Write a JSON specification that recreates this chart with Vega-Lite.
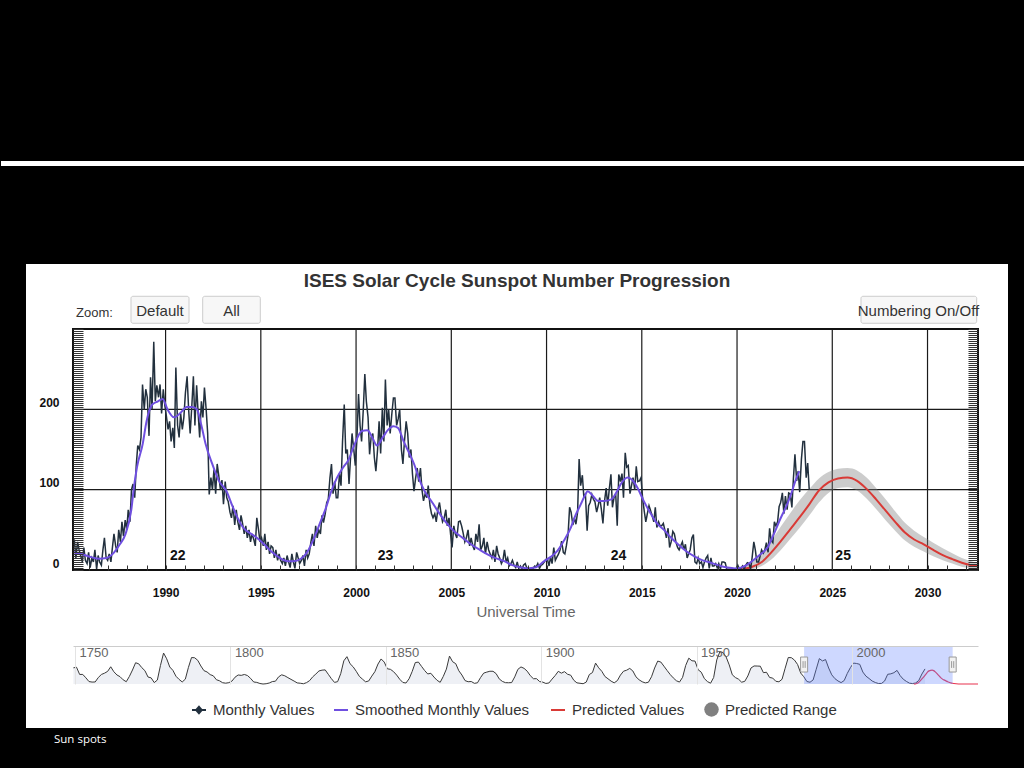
{
"$schema": "https://vega.github.io/schema/vega-lite/v6.json",
"background": "#000000",
"padding": 0,
"bounds": "flush",
"spacing": 76,
"config": {"view": {"stroke": null}, "font": "Liberation Sans"},
"resolve": {"scale": {"x": "independent", "y": "independent", "color": "independent"}},
"datasets": {
"one": [{}],
"grid": [{"g":1990},{"g":1995},{"g":2000},{"g":2005},{"g":2010},{"g":2015},{"g":2020},{"g":2025},{"g":2030}],
"hgrid": [{"v":100},{"v":200}],
"cycles": [{"c":"22","t":1990.64},{"c":"23","t":2001.55},{"c":"24","t":2013.78},{"c":"25","t":2025.57}],
"handles": [{"h":1984.6},{"h":2032.4}],
"monthly": [
{"t":1985.04,"v":20},{"t":1985.13,"v":30},{"t":1985.21,"v":38},{"t":1985.29,"v":15},{"t":1985.38,"v":35},{"t":1985.46,"v":25},{"t":1985.54,"v":18},{"t":1985.63,"v":10},{"t":1985.71,"v":28},{"t":1985.79,"v":12},{"t":1985.88,"v":8},{"t":1985.96,"v":22},
{"t":1986.04,"v":3},{"t":1986.13,"v":15},{"t":1986.21,"v":10},{"t":1986.29,"v":25},{"t":1986.38,"v":1},{"t":1986.46,"v":18},{"t":1986.54,"v":10},{"t":1986.63,"v":6},{"t":1986.71,"v":25},{"t":1986.79,"v":40},{"t":1986.88,"v":15},{"t":1986.96,"v":12},
{"t":1987.04,"v":20},{"t":1987.13,"v":10},{"t":1987.21,"v":28},{"t":1987.29,"v":45},{"t":1987.38,"v":30},{"t":1987.46,"v":22},{"t":1987.54,"v":50},{"t":1987.63,"v":35},{"t":1987.71,"v":60},{"t":1987.79,"v":42},{"t":1987.88,"v":62},{"t":1987.96,"v":50},
{"t":1988.04,"v":75},{"t":1988.13,"v":60},{"t":1988.21,"v":100},{"t":1988.29,"v":107},{"t":1988.38,"v":90},{"t":1988.46,"v":130},{"t":1988.54,"v":155},{"t":1988.63,"v":150},{"t":1988.71,"v":165},{"t":1988.79,"v":231},{"t":1988.88,"v":200},{"t":1988.96,"v":225},
{"t":1989.04,"v":215},{"t":1989.13,"v":167},{"t":1989.21,"v":240},{"t":1989.29,"v":200},{"t":1989.38,"v":284},{"t":1989.46,"v":210},{"t":1989.54,"v":230},{"t":1989.63,"v":215},{"t":1989.71,"v":231},{"t":1989.79,"v":195},{"t":1989.88,"v":225},{"t":1989.96,"v":205},
{"t":1990.04,"v":192},{"t":1990.13,"v":175},{"t":1990.21,"v":185},{"t":1990.29,"v":160},{"t":1990.38,"v":177},{"t":1990.46,"v":152},{"t":1990.54,"v":252},{"t":1990.63,"v":180},{"t":1990.71,"v":165},{"t":1990.79,"v":195},{"t":1990.88,"v":175},{"t":1990.96,"v":190},
{"t":1991.04,"v":220},{"t":1991.13,"v":241},{"t":1991.21,"v":200},{"t":1991.29,"v":170},{"t":1991.38,"v":205},{"t":1991.46,"v":241},{"t":1991.54,"v":180},{"t":1991.63,"v":230},{"t":1991.71,"v":195},{"t":1991.79,"v":165},{"t":1991.88,"v":210},{"t":1991.96,"v":190},
{"t":1992.04,"v":227},{"t":1992.13,"v":200},{"t":1992.21,"v":170},{"t":1992.29,"v":94},{"t":1992.38,"v":115},{"t":1992.46,"v":100},{"t":1992.54,"v":125},{"t":1992.63,"v":95},{"t":1992.71,"v":132},{"t":1992.79,"v":118},{"t":1992.88,"v":100},{"t":1992.96,"v":112},
{"t":1993.04,"v":82},{"t":1993.13,"v":110},{"t":1993.21,"v":90},{"t":1993.29,"v":85},{"t":1993.38,"v":72},{"t":1993.46,"v":65},{"t":1993.54,"v":80},{"t":1993.63,"v":56},{"t":1993.71,"v":75},{"t":1993.79,"v":60},{"t":1993.88,"v":50},{"t":1993.96,"v":68},
{"t":1994.04,"v":58},{"t":1994.13,"v":45},{"t":1994.21,"v":55},{"t":1994.29,"v":40},{"t":1994.38,"v":50},{"t":1994.46,"v":35},{"t":1994.54,"v":45},{"t":1994.63,"v":38},{"t":1994.71,"v":30},{"t":1994.79,"v":65},{"t":1994.88,"v":50},{"t":1994.96,"v":35},
{"t":1995.04,"v":40},{"t":1995.13,"v":30},{"t":1995.21,"v":45},{"t":1995.29,"v":25},{"t":1995.38,"v":35},{"t":1995.46,"v":20},{"t":1995.54,"v":30},{"t":1995.63,"v":28},{"t":1995.71,"v":15},{"t":1995.79,"v":25},{"t":1995.88,"v":12},{"t":1995.96,"v":20},
{"t":1996.04,"v":12},{"t":1996.13,"v":8},{"t":1996.21,"v":15},{"t":1996.29,"v":5},{"t":1996.38,"v":18},{"t":1996.46,"v":10},{"t":1996.54,"v":3},{"t":1996.63,"v":20},{"t":1996.71,"v":10},{"t":1996.79,"v":2},{"t":1996.88,"v":22},{"t":1996.96,"v":15},
{"t":1997.04,"v":8},{"t":1997.13,"v":12},{"t":1997.21,"v":18},{"t":1997.29,"v":5},{"t":1997.38,"v":25},{"t":1997.46,"v":15},{"t":1997.54,"v":20},{"t":1997.63,"v":35},{"t":1997.71,"v":45},{"t":1997.79,"v":30},{"t":1997.88,"v":55},{"t":1997.96,"v":40},
{"t":1998.04,"v":50},{"t":1998.13,"v":45},{"t":1998.21,"v":68},{"t":1998.29,"v":59},{"t":1998.38,"v":70},{"t":1998.46,"v":84},{"t":1998.54,"v":88},{"t":1998.63,"v":115},{"t":1998.71,"v":132},{"t":1998.79,"v":95},{"t":1998.88,"v":110},{"t":1998.96,"v":90},
{"t":1999.04,"v":90},{"t":1999.13,"v":120},{"t":1999.21,"v":105},{"t":1999.29,"v":160},{"t":1999.38,"v":206},{"t":1999.46,"v":145},{"t":1999.54,"v":150},{"t":1999.63,"v":107},{"t":1999.71,"v":140},{"t":1999.79,"v":170},{"t":1999.88,"v":150},{"t":1999.96,"v":130},
{"t":2000.04,"v":160},{"t":2000.13,"v":219},{"t":2000.21,"v":180},{"t":2000.29,"v":160},{"t":2000.38,"v":200},{"t":2000.46,"v":244},{"t":2000.54,"v":210},{"t":2000.63,"v":190},{"t":2000.71,"v":144},{"t":2000.79,"v":165},{"t":2000.88,"v":170},{"t":2000.96,"v":140},
{"t":2001.04,"v":123},{"t":2001.13,"v":150},{"t":2001.21,"v":185},{"t":2001.29,"v":145},{"t":2001.38,"v":202},{"t":2001.46,"v":160},{"t":2001.54,"v":237},{"t":2001.63,"v":180},{"t":2001.71,"v":200},{"t":2001.79,"v":170},{"t":2001.88,"v":195},{"t":2001.96,"v":214},
{"t":2002.04,"v":214},{"t":2002.13,"v":180},{"t":2002.21,"v":188},{"t":2002.29,"v":200},{"t":2002.38,"v":150},{"t":2002.46,"v":132},{"t":2002.54,"v":160},{"t":2002.63,"v":185},{"t":2002.71,"v":170},{"t":2002.79,"v":140},{"t":2002.88,"v":150},{"t":2002.96,"v":120},
{"t":2003.04,"v":98},{"t":2003.13,"v":115},{"t":2003.21,"v":127},{"t":2003.29,"v":110},{"t":2003.38,"v":127},{"t":2003.46,"v":100},{"t":2003.54,"v":86},{"t":2003.63,"v":95},{"t":2003.71,"v":90},{"t":2003.79,"v":105},{"t":2003.88,"v":80},{"t":2003.96,"v":70},
{"t":2004.04,"v":65},{"t":2004.13,"v":70},{"t":2004.21,"v":60},{"t":2004.29,"v":75},{"t":2004.38,"v":84},{"t":2004.46,"v":70},{"t":2004.54,"v":60},{"t":2004.63,"v":65},{"t":2004.71,"v":75},{"t":2004.79,"v":55},{"t":2004.88,"v":65},{"t":2004.96,"v":45},
{"t":2005.04,"v":28},{"t":2005.13,"v":55},{"t":2005.21,"v":45},{"t":2005.29,"v":40},{"t":2005.38,"v":60},{"t":2005.46,"v":61},{"t":2005.54,"v":55},{"t":2005.63,"v":45},{"t":2005.71,"v":35},{"t":2005.79,"v":40},{"t":2005.88,"v":50},{"t":2005.96,"v":30},
{"t":2006.04,"v":40},{"t":2006.13,"v":30},{"t":2006.21,"v":25},{"t":2006.29,"v":45},{"t":2006.38,"v":35},{"t":2006.46,"v":57},{"t":2006.54,"v":25},{"t":2006.63,"v":30},{"t":2006.71,"v":40},{"t":2006.79,"v":20},{"t":2006.88,"v":35},{"t":2006.96,"v":25},
{"t":2007.04,"v":20},{"t":2007.13,"v":15},{"t":2007.21,"v":25},{"t":2007.29,"v":10},{"t":2007.38,"v":30},{"t":2007.46,"v":20},{"t":2007.54,"v":15},{"t":2007.63,"v":8},{"t":2007.71,"v":12},{"t":2007.79,"v":25},{"t":2007.88,"v":10},{"t":2007.96,"v":15},
{"t":2008.04,"v":5},{"t":2008.13,"v":8},{"t":2008.21,"v":12},{"t":2008.29,"v":6},{"t":2008.38,"v":3},{"t":2008.46,"v":10},{"t":2008.54,"v":2},{"t":2008.63,"v":5},{"t":2008.71,"v":1},{"t":2008.79,"v":6},{"t":2008.88,"v":8},{"t":2008.96,"v":3},
{"t":2009.04,"v":2},{"t":2009.13,"v":1},{"t":2009.21,"v":0},{"t":2009.29,"v":2},{"t":2009.38,"v":5},{"t":2009.46,"v":4},{"t":2009.54,"v":8},{"t":2009.63,"v":2},{"t":2009.71,"v":6},{"t":2009.79,"v":7},{"t":2009.88,"v":10},{"t":2009.96,"v":13},
{"t":2010.04,"v":14},{"t":2010.13,"v":5},{"t":2010.21,"v":16},{"t":2010.29,"v":8},{"t":2010.38,"v":28},{"t":2010.46,"v":12},{"t":2010.54,"v":16},{"t":2010.63,"v":20},{"t":2010.71,"v":25},{"t":2010.79,"v":36},{"t":2010.88,"v":22},{"t":2010.96,"v":20},
{"t":2011.04,"v":30},{"t":2011.13,"v":44},{"t":2011.21,"v":78},{"t":2011.29,"v":72},{"t":2011.38,"v":56},{"t":2011.46,"v":65},{"t":2011.54,"v":57},{"t":2011.63,"v":72},{"t":2011.71,"v":138},{"t":2011.79,"v":105},{"t":2011.88,"v":118},{"t":2011.96,"v":90},
{"t":2012.04,"v":95},{"t":2012.13,"v":49},{"t":2012.21,"v":80},{"t":2012.29,"v":84},{"t":2012.38,"v":94},{"t":2012.46,"v":88},{"t":2012.54,"v":85},{"t":2012.63,"v":72},{"t":2012.71,"v":80},{"t":2012.79,"v":90},{"t":2012.88,"v":75},{"t":2012.96,"v":58},
{"t":2013.04,"v":85},{"t":2013.13,"v":102},{"t":2013.21,"v":80},{"t":2013.29,"v":100},{"t":2013.38,"v":119},{"t":2013.46,"v":78},{"t":2013.54,"v":90},{"t":2013.63,"v":95},{"t":2013.71,"v":55},{"t":2013.79,"v":119},{"t":2013.88,"v":110},{"t":2013.96,"v":120},
{"t":2014.04,"v":90},{"t":2014.13,"v":146},{"t":2014.21,"v":128},{"t":2014.29,"v":130},{"t":2014.38,"v":95},{"t":2014.46,"v":105},{"t":2014.54,"v":115},{"t":2014.63,"v":100},{"t":2014.71,"v":129},{"t":2014.79,"v":110},{"t":2014.88,"v":111},{"t":2014.96,"v":115},
{"t":2015.04,"v":90},{"t":2015.13,"v":73},{"t":2015.21,"v":60},{"t":2015.29,"v":70},{"t":2015.38,"v":80},{"t":2015.46,"v":74},{"t":2015.54,"v":68},{"t":2015.63,"v":60},{"t":2015.71,"v":78},{"t":2015.79,"v":53},{"t":2015.88,"v":60},{"t":2015.96,"v":55},
{"t":2016.04,"v":55},{"t":2016.13,"v":58},{"t":2016.21,"v":50},{"t":2016.29,"v":40},{"t":2016.38,"v":52},{"t":2016.46,"v":28},{"t":2016.54,"v":35},{"t":2016.63,"v":48},{"t":2016.71,"v":45},{"t":2016.79,"v":35},{"t":2016.88,"v":28},{"t":2016.96,"v":25},
{"t":2017.04,"v":30},{"t":2017.13,"v":35},{"t":2017.21,"v":25},{"t":2017.29,"v":32},{"t":2017.38,"v":15},{"t":2017.46,"v":20},{"t":2017.54,"v":25},{"t":2017.63,"v":40},{"t":2017.71,"v":44},{"t":2017.79,"v":10},{"t":2017.88,"v":8},{"t":2017.96,"v":15},
{"t":2018.04,"v":8},{"t":2018.13,"v":10},{"t":2018.21,"v":3},{"t":2018.29,"v":10},{"t":2018.38,"v":15},{"t":2018.46,"v":18},{"t":2018.54,"v":2},{"t":2018.63,"v":15},{"t":2018.71,"v":5},{"t":2018.79,"v":5},{"t":2018.88,"v":8},{"t":2018.96,"v":3},
{"t":2019.04,"v":8},{"t":2019.13,"v":1},{"t":2019.21,"v":10},{"t":2019.29,"v":10},{"t":2019.38,"v":9},{"t":2019.46,"v":1},{"t":2019.54,"v":1},{"t":2019.63,"v":1},{"t":2019.71,"v":1},{"t":2019.79,"v":1},{"t":2019.88,"v":1},{"t":2019.96,"v":2},
{"t":2020.04,"v":6},{"t":2020.13,"v":1},{"t":2020.21,"v":2},{"t":2020.29,"v":5},{"t":2020.38,"v":1},{"t":2020.46,"v":6},{"t":2020.54,"v":9},{"t":2020.63,"v":8},{"t":2020.71,"v":1},{"t":2020.79,"v":15},{"t":2020.88,"v":35},{"t":2020.96,"v":25},
{"t":2021.04,"v":10},{"t":2021.13,"v":10},{"t":2021.21,"v":17},{"t":2021.29,"v":25},{"t":2021.38,"v":21},{"t":2021.46,"v":25},{"t":2021.54,"v":34},{"t":2021.63,"v":22},{"t":2021.71,"v":52},{"t":2021.79,"v":37},{"t":2021.88,"v":34},{"t":2021.96,"v":60},
{"t":2022.04,"v":55},{"t":2022.13,"v":60},{"t":2022.21,"v":79},{"t":2022.29,"v":84},{"t":2022.38,"v":96},{"t":2022.46,"v":70},{"t":2022.54,"v":92},{"t":2022.63,"v":75},{"t":2022.71,"v":96},{"t":2022.79,"v":95},{"t":2022.88,"v":78},{"t":2022.96,"v":114},
{"t":2023.04,"v":144},{"t":2023.13,"v":111},{"t":2023.21,"v":123},{"t":2023.29,"v":97},{"t":2023.38,"v":138},{"t":2023.46,"v":160},{"t":2023.54,"v":160},{"t":2023.63,"v":115},{"t":2023.71,"v":133},{"t":2023.79,"v":100}
],
"smooth": [
{"t":1985.0,"s":24},{"t":1985.3,"s":21},{"t":1985.7,"s":19},{"t":1986.1,"s":16},{"t":1986.5,"s":14},{"t":1986.9,"s":15},{"t":1987.3,"s":22},{"t":1987.6,"s":32},{"t":1987.9,"s":45},{"t":1988.2,"s":75},{"t":1988.35,"s":105},{"t":1988.5,"s":128},{"t":1988.8,"s":157},{"t":1989.0,"s":185},{"t":1989.3,"s":206},{"t":1989.6,"s":210},{"t":1989.85,"s":213},{"t":1990.1,"s":200},{"t":1990.45,"s":190},{"t":1990.8,"s":196},{"t":1991.1,"s":203},{"t":1991.4,"s":203},{"t":1991.65,"s":200},{"t":1991.9,"s":178},{"t":1992.1,"s":157},{"t":1992.45,"s":132},{"t":1992.8,"s":111},{"t":1993.2,"s":98},{"t":1993.5,"s":80},{"t":1993.8,"s":64},{"t":1994.1,"s":52},{"t":1994.5,"s":45},{"t":1994.9,"s":38},{"t":1995.3,"s":29},{"t":1995.6,"s":22},{"t":1996.0,"s":15},{"t":1996.4,"s":11},{"t":1996.7,"s":11},{"t":1997.1,"s":14},{"t":1997.5,"s":25},{"t":1997.8,"s":40},{"t":1998.1,"s":58},{"t":1998.4,"s":76},{"t":1998.7,"s":98},{"t":1999.0,"s":115},{"t":1999.3,"s":127},{"t":1999.6,"s":137},{"t":1999.9,"s":155},{"t":2000.3,"s":173},{"t":2000.6,"s":174},{"t":2000.85,"s":165},{"t":2001.1,"s":155},{"t":2001.4,"s":165},{"t":2001.7,"s":175},{"t":2001.95,"s":179},{"t":2002.2,"s":177},{"t":2002.5,"s":160},{"t":2002.8,"s":145},{"t":2003.06,"s":131},{"t":2003.3,"s":114},{"t":2003.6,"s":98},{"t":2004.0,"s":84},{"t":2004.3,"s":73},{"t":2004.7,"s":60},{"t":2005.16,"s":48},{"t":2005.6,"s":40},{"t":2006.03,"s":32},{"t":2006.5,"s":25},{"t":2006.9,"s":19.5},{"t":2007.3,"s":15},{"t":2007.78,"s":11},{"t":2008.2,"s":6},{"t":2008.66,"s":3},{"t":2009.0,"s":2},{"t":2009.4,"s":3},{"t":2009.88,"s":11},{"t":2010.2,"s":16},{"t":2010.58,"s":24},{"t":2010.9,"s":36},{"t":2011.28,"s":53},{"t":2011.5,"s":67},{"t":2011.8,"s":82},{"t":2012.0,"s":92},{"t":2012.16,"s":98},{"t":2012.4,"s":93},{"t":2012.7,"s":86},{"t":2013.0,"s":86},{"t":2013.4,"s":88},{"t":2013.7,"s":98},{"t":2013.9,"s":107},{"t":2014.26,"s":115},{"t":2014.5,"s":112},{"t":2014.78,"s":102},{"t":2015.1,"s":86},{"t":2015.5,"s":69},{"t":2015.8,"s":58},{"t":2016.2,"s":49},{"t":2016.5,"s":41},{"t":2016.9,"s":32},{"t":2017.3,"s":24},{"t":2017.76,"s":17},{"t":2018.2,"s":12},{"t":2018.63,"s":9},{"t":2019.0,"s":6},{"t":2019.5,"s":3},{"t":2019.9,"s":2},{"t":2020.2,"s":3},{"t":2020.5,"s":6},{"t":2020.9,"s":13},{"t":2021.2,"s":19},{"t":2021.6,"s":28},{"t":2021.9,"s":43},{"t":2022.3,"s":65},{"t":2022.6,"s":80},{"t":2022.83,"s":94},{"t":2023.05,"s":110},{"t":2023.27,"s":123}
],
"pred": [
{"t":2019.9,"p":0,"lo":0,"hi":1},{"t":2020.3,"p":1,"lo":0,"hi":4},{"t":2020.8,"p":4,"lo":1,"hi":10},{"t":2021.3,"p":10,"lo":5,"hi":21},{"t":2021.8,"p":22,"lo":13,"hi":37},{"t":2022.3,"p":36,"lo":25,"hi":54},{"t":2022.8,"p":51,"lo":39,"hi":71},{"t":2023.3,"p":66,"lo":53,"hi":87},{"t":2023.8,"p":82,"lo":68,"hi":101},{"t":2024.3,"p":99,"lo":84,"hi":114},{"t":2024.8,"p":109,"lo":96,"hi":122},{"t":2025.3,"p":114,"lo":102,"hi":126},{"t":2025.8,"p":115,"lo":103,"hi":127},{"t":2026.3,"p":111,"lo":99,"hi":124},{"t":2026.8,"p":101,"lo":89,"hi":115},{"t":2027.3,"p":88,"lo":76,"hi":102},{"t":2027.8,"p":74,"lo":62,"hi":88},{"t":2028.3,"p":60,"lo":49,"hi":73},{"t":2028.8,"p":47,"lo":37,"hi":59},{"t":2029.3,"p":38,"lo":29,"hi":49},{"t":2029.8,"p":32,"lo":23,"hi":41},{"t":2030.3,"p":25,"lo":17,"hi":34},{"t":2030.8,"p":18.5,"lo":12,"hi":27},{"t":2031.3,"p":13.5,"lo":8,"hi":21},{"t":2031.8,"p":9,"lo":4,"hi":15},{"t":2032.3,"p":6,"lo":2,"hi":11},{"t":2032.8,"p":4,"lo":1,"hi":8},{"t":2033.5,"p":2,"lo":0,"hi":5},{"t":2035.0,"p":0,"lo":0,"hi":1},{"t":2040.55,"p":0,"lo":0,"hi":0}
],
"nav": [
{"t":1749.5,"n":134.7},{"t":1750.5,"n":139.0},{"t":1751.5,"n":79.5},{"t":1752.5,"n":79.7},{"t":1753.5,"n":51.5},{"t":1754.5,"n":20.3},{"t":1755.5,"n":16.0},{"t":1756.5,"n":17.0},{"t":1757.5,"n":54.0},{"t":1758.5,"n":79.3},{"t":1759.5,"n":90.0},{"t":1760.5,"n":104.8},{"t":1761.5,"n":143.2},{"t":1762.5,"n":102.0},{"t":1763.5,"n":75.2},{"t":1764.5,"n":60.7},{"t":1765.5,"n":34.8},{"t":1766.5,"n":19.0},{"t":1767.5,"n":63.0},{"t":1768.5,"n":116.3},{"t":1769.5,"n":176.8},{"t":1770.5,"n":168.0},{"t":1771.5,"n":136.0},{"t":1772.5,"n":110.8},{"t":1773.5,"n":58.0},{"t":1774.5,"n":51.0},{"t":1775.5,"n":11.7},{"t":1776.5,"n":33.0},{"t":1777.5,"n":154.2},{"t":1778.5,"n":257.3},{"t":1779.5,"n":209.8},{"t":1780.5,"n":141.3},{"t":1781.5,"n":113.5},{"t":1782.5,"n":64.2},{"t":1783.5,"n":38.0},{"t":1784.5,"n":17.0},{"t":1785.5,"n":40.2},{"t":1786.5,"n":138.2},{"t":1787.5,"n":220.0},{"t":1788.5,"n":218.2},{"t":1789.5,"n":196.8},{"t":1790.5,"n":149.8},{"t":1791.5,"n":111.0},{"t":1792.5,"n":100.0},{"t":1793.5,"n":78.2},{"t":1794.5,"n":68.3},{"t":1795.5,"n":35.5},{"t":1796.5,"n":26.7},{"t":1797.5,"n":10.7},{"t":1798.5,"n":6.8},{"t":1799.5,"n":11.3},
{"t":1800.5,"n":24.2},{"t":1801.5,"n":56.7},{"t":1802.5,"n":75.0},{"t":1803.5,"n":71.8},{"t":1804.5,"n":79.2},{"t":1805.5,"n":70.3},{"t":1806.5,"n":46.8},{"t":1807.5,"n":16.8},{"t":1808.5,"n":13.5},{"t":1809.5,"n":4.2},{"t":1810.5,"n":0.0},{"t":1811.5,"n":2.3},{"t":1812.5,"n":8.3},{"t":1813.5,"n":20.3},{"t":1814.5,"n":23.2},{"t":1815.5,"n":59.0},{"t":1816.5,"n":76.3},{"t":1817.5,"n":68.3},{"t":1818.5,"n":52.9},{"t":1819.5,"n":38.5},{"t":1820.5,"n":24.2},{"t":1821.5,"n":9.2},{"t":1822.5,"n":6.3},{"t":1823.5,"n":2.2},{"t":1824.5,"n":11.4},{"t":1825.5,"n":28.2},{"t":1826.5,"n":59.9},{"t":1827.5,"n":83.0},{"t":1828.5,"n":108.5},{"t":1829.5,"n":115.2},{"t":1830.5,"n":117.4},{"t":1831.5,"n":80.8},{"t":1832.5,"n":44.3},{"t":1833.5,"n":13.4},{"t":1834.5,"n":19.5},{"t":1835.5,"n":85.8},{"t":1836.5,"n":192.7},{"t":1837.5,"n":227.3},{"t":1838.5,"n":168.7},{"t":1839.5,"n":143.0},{"t":1840.5,"n":105.5},{"t":1841.5,"n":63.3},{"t":1842.5,"n":40.3},{"t":1843.5,"n":18.1},{"t":1844.5,"n":25.1},{"t":1845.5,"n":65.8},{"t":1846.5,"n":102.7},{"t":1847.5,"n":166.3},{"t":1848.5,"n":208.3},{"t":1849.5,"n":182.5},
{"t":1850.5,"n":126.3},{"t":1851.5,"n":122.0},{"t":1852.5,"n":102.7},{"t":1853.5,"n":74.1},{"t":1854.5,"n":39.0},{"t":1855.5,"n":12.7},{"t":1856.5,"n":8.2},{"t":1857.5,"n":43.4},{"t":1858.5,"n":104.4},{"t":1859.5,"n":178.3},{"t":1860.5,"n":182.2},{"t":1861.5,"n":146.6},{"t":1862.5,"n":112.1},{"t":1863.5,"n":83.5},{"t":1864.5,"n":89.2},{"t":1865.5,"n":57.8},{"t":1866.5,"n":30.7},{"t":1867.5,"n":13.9},{"t":1868.5,"n":62.8},{"t":1869.5,"n":123.6},{"t":1870.5,"n":232.0},{"t":1871.5,"n":185.3},{"t":1872.5,"n":169.2},{"t":1873.5,"n":110.1},{"t":1874.5,"n":74.5},{"t":1875.5,"n":28.3},{"t":1876.5,"n":18.9},{"t":1877.5,"n":20.7},{"t":1878.5,"n":5.7},{"t":1879.5,"n":10.0},{"t":1880.5,"n":53.7},{"t":1881.5,"n":90.5},{"t":1882.5,"n":99.0},{"t":1883.5,"n":106.1},{"t":1884.5,"n":105.8},{"t":1885.5,"n":86.3},{"t":1886.5,"n":42.4},{"t":1887.5,"n":21.8},{"t":1888.5,"n":11.2},{"t":1889.5,"n":10.4},{"t":1890.5,"n":11.8},{"t":1891.5,"n":59.5},{"t":1892.5,"n":121.7},{"t":1893.5,"n":142.0},{"t":1894.5,"n":130.0},{"t":1895.5,"n":106.6},{"t":1896.5,"n":69.4},{"t":1897.5,"n":43.8},{"t":1898.5,"n":44.4},{"t":1899.5,"n":20.2},
{"t":1900.5,"n":15.7},{"t":1901.5,"n":4.6},{"t":1902.5,"n":8.5},{"t":1903.5,"n":40.8},{"t":1904.5,"n":70.1},{"t":1905.5,"n":105.5},{"t":1906.5,"n":90.1},{"t":1907.5,"n":102.8},{"t":1908.5,"n":80.9},{"t":1909.5,"n":73.2},{"t":1910.5,"n":30.9},{"t":1911.5,"n":9.5},{"t":1912.5,"n":6.0},{"t":1913.5,"n":2.4},{"t":1914.5,"n":16.1},{"t":1915.5,"n":79.0},{"t":1916.5,"n":95.0},{"t":1917.5,"n":173.6},{"t":1918.5,"n":134.6},{"t":1919.5,"n":105.7},{"t":1920.5,"n":62.7},{"t":1921.5,"n":43.5},{"t":1922.5,"n":23.7},{"t":1923.5,"n":9.7},{"t":1924.5,"n":27.9},{"t":1925.5,"n":74.0},{"t":1926.5,"n":106.5},{"t":1927.5,"n":114.7},{"t":1928.5,"n":129.7},{"t":1929.5,"n":108.2},{"t":1930.5,"n":59.4},{"t":1931.5,"n":35.1},{"t":1932.5,"n":18.6},{"t":1933.5,"n":9.2},{"t":1934.5,"n":14.6},{"t":1935.5,"n":60.2},{"t":1936.5,"n":132.8},{"t":1937.5,"n":190.6},{"t":1938.5,"n":182.6},{"t":1939.5,"n":148.0},{"t":1940.5,"n":113.0},{"t":1941.5,"n":79.2},{"t":1942.5,"n":50.8},{"t":1943.5,"n":27.1},{"t":1944.5,"n":16.1},{"t":1945.5,"n":55.3},{"t":1946.5,"n":154.3},{"t":1947.5,"n":214.7},{"t":1948.5,"n":193.0},{"t":1949.5,"n":190.7},
{"t":1950.5,"n":118.9},{"t":1951.5,"n":98.3},{"t":1952.5,"n":45.0},{"t":1953.5,"n":20.1},{"t":1954.5,"n":6.6},{"t":1955.5,"n":54.2},{"t":1956.5,"n":200.7},{"t":1957.5,"n":269.3},{"t":1958.5,"n":261.7},{"t":1959.5,"n":225.1},{"t":1960.5,"n":159.0},{"t":1961.5,"n":76.4},{"t":1962.5,"n":53.4},{"t":1963.5,"n":39.9},{"t":1964.5,"n":15.0},{"t":1965.5,"n":22.0},{"t":1966.5,"n":66.8},{"t":1967.5,"n":132.9},{"t":1968.5,"n":150.0},{"t":1969.5,"n":149.4},{"t":1970.5,"n":148.0},{"t":1971.5,"n":94.4},{"t":1972.5,"n":97.6},{"t":1973.5,"n":54.1},{"t":1974.5,"n":49.2},{"t":1975.5,"n":22.5},{"t":1976.5,"n":18.4},{"t":1977.5,"n":39.3},{"t":1978.5,"n":131.0},{"t":1979.5,"n":220.1},{"t":1980.5,"n":218.9},{"t":1981.5,"n":198.9},{"t":1982.5,"n":162.4},{"t":1983.5,"n":91.0},{"t":1984.5,"n":60.5},{"t":1985.5,"n":20.6},{"t":1986.5,"n":14.8},{"t":1987.5,"n":33.9},{"t":1988.5,"n":123.0},{"t":1989.5,"n":211.1},{"t":1990.5,"n":191.8},{"t":1991.5,"n":203.3},{"t":1992.5,"n":133.0},{"t":1993.5,"n":76.1},{"t":1994.5,"n":44.9},{"t":1995.5,"n":25.1},{"t":1996.5,"n":11.6},{"t":1997.5,"n":28.9},{"t":1998.5,"n":88.3},{"t":1999.5,"n":136.3},
{"t":2000.5,"n":173.9},{"t":2001.5,"n":170.4},{"t":2002.5,"n":163.6},{"t":2003.5,"n":99.3},{"t":2004.5,"n":65.3},{"t":2005.5,"n":45.8},{"t":2006.5,"n":24.7},{"t":2007.5,"n":12.6},{"t":2008.5,"n":4.2},{"t":2009.5,"n":4.8},{"t":2010.5,"n":24.9},{"t":2011.5,"n":80.8},{"t":2012.5,"n":84.5},{"t":2013.5,"n":94.0},{"t":2014.5,"n":113.3},{"t":2015.5,"n":69.8},{"t":2016.5,"n":39.8},{"t":2017.5,"n":21.7},{"t":2018.5,"n":7.0},{"t":2019.5,"n":3.6},{"t":2020.5,"n":8.8},{"t":2021.5,"n":29.6},{"t":2022.5,"n":83.2},{"t":2023.5,"n":125.5}
]
},
"vconcat": [
{
"width": 905,
"height": 241,
"resolve": {"axis": {"x": "independent", "y": "independent"}},
"layer": [
{"data": {"name": "one"}, "mark": {"type": "rect", "color": "#000000"},
 "encoding": {"x": {"datum": 1981.36, "type": "quantitative", "scale": {"domain": [1985.14, 2032.65], "nice": false, "zero": false}, "axis": null}, "x2": {"datum": 2035.115},
 "y": {"datum": 708.3, "type": "quantitative", "scale": {"domain": [0, 300], "nice": false, "zero": false}, "axis": null}, "y2": {"datum": -247.7}}},
{"data": {"name": "one"}, "mark": {"type": "rect", "color": "#ffffff"},
 "encoding": {"x": {"datum": 1981.36, "type": "quantitative", "axis": null}, "x2": {"datum": 2035.115},
 "y": {"datum": 509.13, "type": "quantitative", "axis": null}, "y2": {"datum": 502.9}}},
{"data": {"name": "one"}, "mark": {"type": "rect", "color": "#ffffff"},
 "encoding": {"x": {"datum": 1982.6726, "type": "quantitative", "axis": null}, "x2": {"datum": 2034.225},
 "y": {"datum": 380.91, "type": "quantitative", "axis": null}, "y2": {"datum": -196.68}}},
{"data": {"name": "grid"}, "mark": {"type": "rule", "color": "#1a1a1a", "strokeWidth": 1.2},
 "encoding": {"x": {"field": "g", "type": "quantitative", "axis": null}}},
{"data": {"name": "hgrid"}, "mark": {"type": "rule", "color": "#1a1a1a", "strokeWidth": 1.2},
 "encoding": {"y": {"field": "v", "type": "quantitative",
  "axis": {"orient": "right", "values": [0,2.5,5,7.5,10,12.5,15,17.5,20,22.5,25,27.5,30,32.5,35,37.5,40,42.5,45,47.5,50,52.5,55,57.5,60,62.5,65,67.5,70,72.5,75,77.5,80,82.5,85,87.5,90,92.5,95,97.5,100,102.5,105,107.5,110,112.5,115,117.5,120,122.5,125,127.5,130,132.5,135,137.5,140,142.5,145,147.5,150,152.5,155,157.5,160,162.5,165,167.5,170,172.5,175,177.5,180,182.5,185,187.5,190,192.5,195,197.5,200,202.5,205,207.5,210,212.5,215,217.5,220,222.5,225,227.5,230,232.5,235,237.5,240,242.5,245,247.5,250,252.5,255,257.5,260,262.5,265,267.5,270,272.5,275,277.5,280,282.5,285,287.5,290,292.5,295,297.5,300],
   "tickSize": -10, "tickColor": "#333333", "tickWidth": 1, "labels": false, "domain": false, "grid": false, "title": null, "zindex": 1}}}},
{"data": {"name": "pred"}, "mark": {"type": "area", "opacity": 0.4, "clip": true, "interpolate": "monotone"},
 "encoding": {"x": {"field": "t", "type": "quantitative", "axis": null}, "y": {"field": "lo", "type": "quantitative", "axis": null}, "y2": {"field": "hi"},
 "fill": {"datum": "Predicted Range", "type": "nominal",
  "scale": {"domain": ["Predicted Range"], "range": ["#808080"]},
  "legend": {"orient": "none", "legendX": 631, "legendY": 373, "title": null, "symbolType": "circle", "symbolSize": 210, "symbolOpacity": 1, "symbolStrokeWidth": 0, "labelFont": "Liberation Sans", "labelFontSize": 15, "labelColor": "#333333", "labelOffset": 6, "padding": 0, "labelLimit": 400}}}},
{"data": {"name": "pred"}, "mark": {"type": "line", "strokeWidth": 2, "clip": true, "interpolate": "monotone"},
 "encoding": {"x": {"field": "t", "type": "quantitative", "axis": null}, "y": {"field": "p", "type": "quantitative", "axis": null},
  "color": {"datum": "Predicted Values", "type": "nominal",
   "scale": {"domain": ["Smoothed Monthly Values", "Predicted Values"], "range": ["#6f4fe0", "#d93a36"]},
   "legend": {"orient": "none", "legendX": 260, "legendY": 373, "direction": "horizontal", "title": null, "symbolType": "stroke", "symbolSize": 196, "symbolStrokeWidth": 2, "symbolOpacity": 1, "labelFont": "Liberation Sans", "labelFontSize": 15, "labelColor": "#333333", "labelOffset": 6, "columnPadding": 18, "padding": 0, "labelLimit": 400}}}},
{"data": {"name": "monthly"}, "mark": {"type": "line", "strokeWidth": 1.5, "clip": true, "color": "#22303e"},
 "encoding": {"x": {"field": "t", "type": "quantitative", "axis": null}, "y": {"field": "v", "type": "quantitative", "axis": null},
  "strokeDash": {"datum": "Monthly Values", "type": "nominal",
   "scale": {"domain": ["Monthly Values"], "range": [[1, 0]]},
   "legend": {"orient": "none", "legendX": 118, "legendY": 373, "title": null, "symbolType": "M-1,0L1,0M0,-0.45L0.4,0L0,0.45L-0.4,0Z", "symbolSize": 196, "symbolStrokeWidth": 2, "symbolOpacity": 1, "symbolStrokeColor": "#22303e", "symbolFillColor": "#22303e", "labelFont": "Liberation Sans", "labelFontSize": 15, "labelColor": "#333333", "labelOffset": 6, "padding": 0, "labelLimit": 400}}}},
{"data": {"name": "smooth"}, "mark": {"type": "line", "strokeWidth": 2, "clip": true, "interpolate": "monotone"},
 "encoding": {"x": {"field": "t", "type": "quantitative", "axis": null}, "y": {"field": "s", "type": "quantitative", "axis": null}, "color": {"datum": "Smoothed Monthly Values"}}},
{"data": {"name": "cycles"}, "mark": {"type": "text", "font": "Liberation Sans", "fontSize": 14, "fontWeight": "bold", "color": "#111111", "align": "center", "baseline": "alphabetic"},
 "encoding": {"x": {"field": "t", "type": "quantitative", "axis": null}, "y": {"datum": 12.07, "type": "quantitative", "axis": null}, "text": {"field": "c"}}},
{"data": {"name": "one"}, "mark": {"type": "rect", "filled": false, "stroke": "#111111", "strokeWidth": 2},
 "encoding": {
  "x": {"datum": 1985.14, "type": "quantitative",
   "axis": {"orient": "bottom", "values": [1986,1987,1988,1989,1990,1991,1992,1993,1994,1995,1996,1997,1998,1999,2000,2001,2002,2003,2004,2005,2006,2007,2008,2009,2010,2011,2012,2013,2014,2015,2016,2017,2018,2019,2020,2021,2022,2023,2024,2025,2026,2027,2028,2029,2030,2031,2032],
    "tickSize": -5, "tickColor": "#333333", "tickWidth": 1, "labelExpr": "datum.value % 5 === 0 ? '' + datum.value : ''",
    "labelFont": "Liberation Sans", "labelFontSize": 12, "labelFontWeight": "bold", "labelColor": "#111111", "labelPadding": 22, "labelFlush": false, "labelOverlap": false,
    "domain": false, "grid": false, "title": "Universal Time", "titleFont": "Liberation Sans", "titleFontSize": 15, "titleFontWeight": "normal", "titleColor": "#666666", "titlePadding": 6, "zindex": 1}},
  "x2": {"datum": 2032.65},
  "y": {"datum": 0, "type": "quantitative",
   "axis": {"orient": "left", "values": [0,2.5,5,7.5,10,12.5,15,17.5,20,22.5,25,27.5,30,32.5,35,37.5,40,42.5,45,47.5,50,52.5,55,57.5,60,62.5,65,67.5,70,72.5,75,77.5,80,82.5,85,87.5,90,92.5,95,97.5,100,102.5,105,107.5,110,112.5,115,117.5,120,122.5,125,127.5,130,132.5,135,137.5,140,142.5,145,147.5,150,152.5,155,157.5,160,162.5,165,167.5,170,172.5,175,177.5,180,182.5,185,187.5,190,192.5,195,197.5,200,202.5,205,207.5,210,212.5,215,217.5,220,222.5,225,227.5,230,232.5,235,237.5,240,242.5,245,247.5,250,252.5,255,257.5,260,262.5,265,267.5,270,272.5,275,277.5,280,282.5,285,287.5,290,292.5,295,297.5,300],
    "tickSize": -10, "tickColor": "#333333", "tickWidth": 1, "labelExpr": "datum.value === 0 || datum.value === 100 || datum.value === 200 ? datum.label : ''",
    "labelFont": "Liberation Sans", "labelFontSize": 12, "labelFontWeight": "bold", "labelColor": "#111111", "labelPadding": 24, "labelBaseline": "alphabetic", "labelOffset": -3, "labelFlush": false, "labelOverlap": false,
    "domain": false, "grid": false, "title": null, "zindex": 1}},
  "y2": {"datum": 300}}},
{"data": {"name": "one"}, "mark": {"type": "rect", "fill": "#f7f7f7", "stroke": "#cccccc", "strokeWidth": 1, "cornerRadius": 2},
 "encoding": {"x": {"datum": 1988.1848, "type": "quantitative", "axis": null}, "x2": {"datum": 1991.2297}, "y": {"datum": 340.71, "type": "quantitative", "axis": null}, "y2": {"datum": 307.1}}},
{"data": {"name": "one"}, "mark": {"type": "rect", "fill": "#f7f7f7", "stroke": "#cccccc", "strokeWidth": 1, "cornerRadius": 2},
 "encoding": {"x": {"datum": 1991.9489, "type": "quantitative", "axis": null}, "x2": {"datum": 1994.9727}, "y": {"datum": 340.71, "type": "quantitative", "axis": null}, "y2": {"datum": 307.1}}},
{"data": {"name": "one"}, "mark": {"type": "rect", "fill": "#f7f7f7", "stroke": "#cccccc", "strokeWidth": 1, "cornerRadius": 2},
 "encoding": {"x": {"datum": 2026.5076, "type": "quantitative", "axis": null}, "x2": {"datum": 2032.5815}, "y": {"datum": 340.71, "type": "quantitative", "axis": null}, "y2": {"datum": 307.1}}},
{"data": {"name": "one"}, "mark": {"type": "text", "text": "Zoom:", "font": "Liberation Sans", "fontSize": 13, "color": "#333333", "align": "left", "baseline": "alphabetic"},
 "encoding": {"x": {"datum": 1985.2975, "type": "quantitative", "axis": null}, "y": {"datum": 315.31, "type": "quantitative", "axis": null}}},
{"data": {"name": "one"}, "mark": {"type": "text", "text": "Default", "font": "Liberation Sans", "fontSize": 15, "color": "#333333", "align": "center", "baseline": "alphabetic"},
 "encoding": {"x": {"datum": 1989.7073, "type": "quantitative", "axis": null}, "y": {"datum": 316.56, "type": "quantitative", "axis": null}}},
{"data": {"name": "one"}, "mark": {"type": "text", "text": "All", "font": "Liberation Sans", "fontSize": 15, "color": "#333333", "align": "center", "baseline": "alphabetic"},
 "encoding": {"x": {"datum": 1993.4609, "type": "quantitative", "axis": null}, "y": {"datum": 316.56, "type": "quantitative", "axis": null}}},
{"data": {"name": "one"}, "mark": {"type": "text", "text": "Numbering On/Off", "font": "Liberation Sans", "fontSize": 15, "color": "#333333", "align": "center", "baseline": "alphabetic"},
 "encoding": {"x": {"datum": 2029.5264, "type": "quantitative", "axis": null}, "y": {"datum": 316.56, "type": "quantitative", "axis": null}}},
{"data": {"name": "one"}, "mark": {"type": "text", "text": "ISES Solar Cycle Sunspot Number Progression", "font": "Liberation Sans", "fontSize": 19, "fontWeight": "bold", "color": "#333333", "align": "center", "baseline": "alphabetic"},
 "encoding": {"x": {"datum": 2008.449, "type": "quantitative", "axis": null}, "y": {"datum": 352.65, "type": "quantitative", "axis": null}}},
{"data": {"name": "one"}, "mark": {"type": "text", "text": "Sun spots", "font": "Open Sans", "fontSize": 11.5, "color": "#ffffff", "align": "left", "baseline": "alphabetic"},
 "encoding": {"x": {"datum": 1984.1426, "type": "quantitative", "axis": null}, "y": {"datum": -215.35, "type": "quantitative", "axis": null}}}
]
},
{
"width": 905,
"height": 38,
"resolve": {"axis": {"x": "independent"}},
"layer": [
{"data": {"name": "nav"}, "mark": {"type": "area", "color": "#eef0f5"},
 "encoding": {"x": {"field": "t", "type": "quantitative", "scale": {"domain": [1749.36, 2040.55], "nice": false, "zero": false},
   "axis": {"orient": "top", "values": [1750,1800,1850,1900,1950,2000], "grid": true, "gridColor": "#e3e3e3", "ticks": false, "domain": true, "domainColor": "#cccccc",
    "labelExpr": "'' + datum.value", "labelAlign": "left", "labelBaseline": "alphabetic", "labelPadding": -10, "labelOffset": 4, "labelColor": "#666666", "labelFont": "Liberation Sans", "labelFontSize": 13, "labelFlush": false, "labelOverlap": false, "labelBound": false, "title": null, "zindex": 1}},
  "y": {"field": "n", "type": "quantitative", "scale": {"domain": [0, 316], "nice": false, "zero": false}, "axis": null}}},
{"data": {"name": "nav"}, "mark": {"type": "line", "color": "#3a3a3a", "strokeWidth": 1},
 "encoding": {"x": {"field": "t", "type": "quantitative", "axis": null}, "y": {"field": "n", "type": "quantitative", "axis": null}}},
{"data": {"name": "pred"}, "mark": {"type": "line", "color": "#e8334f", "strokeWidth": 1.2, "interpolate": "monotone"},
 "encoding": {"x": {"field": "t", "type": "quantitative", "axis": null}, "y": {"field": "p", "type": "quantitative", "axis": null}}},
{"data": {"name": "one"}, "mark": {"type": "rect", "color": "#6685ff", "opacity": 0.32},
 "encoding": {"x": {"datum": 1984.6, "type": "quantitative", "axis": null}, "x2": {"datum": 2032.4}, "y": {"datum": 0, "type": "quantitative", "axis": null}, "y2": {"datum": 316}}},
{"data": {"name": "handles"}, "mark": {"type": "point", "shape": "M-0.47,-1H0.47V1H-0.47Z M-0.14,-0.45V0.45 M0.14,-0.45V0.45", "size": 225, "filled": true, "fill": "#f2f2f2", "stroke": "#999999", "strokeWidth": 1, "opacity": 1},
 "encoding": {"x": {"field": "h", "type": "quantitative", "axis": null}, "y": {"datum": 162, "type": "quantitative", "axis": null}}}
]
}
]
}
